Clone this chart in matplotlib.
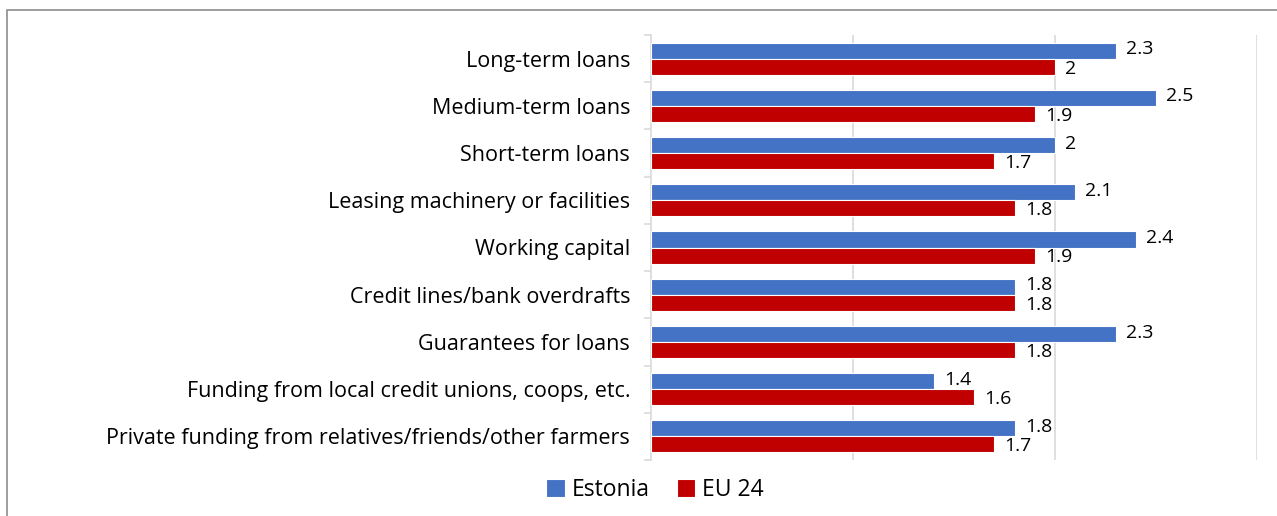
import matplotlib.pyplot as plt
from matplotlib.patches import Rectangle
import numpy as np

plt.rcParams["font.family"] = ["Open Sans", "DejaVu Sans"]

categories = [
    "Long-term loans",
    "Medium-term loans",
    "Short-term loans",
    "Leasing machinery or facilities",
    "Working capital",
    "Credit lines/bank overdrafts",
    "Guarantees for loans",
    "Funding from local credit unions, coops, etc.",
    "Private funding from relatives/friends/other farmers",
]
estonia = [2.3, 2.5, 2.0, 2.1, 2.4, 1.8, 2.3, 1.4, 1.8]
eu24 = [2.0, 1.9, 1.7, 1.8, 1.9, 1.8, 1.8, 1.6, 1.7]
series_names = ["Estonia", "EU 24"]
colors = ["#4472C4", "#C00000"]

fig = plt.figure(figsize=(12.77, 5.16), dpi=100)
ax = fig.add_axes([651 / 1277, 1 - 460 / 516, (1257 - 651) / 1277, 425 / 516])

# figure border
fig.patches.append(Rectangle((7 / 1277, -0.1), 1.2, 1 - 10 / 516 + 0.1,
                             transform=fig.transFigure, fill=False,
                             edgecolor="#8c8c8c", linewidth=1.2, zorder=0))

y = np.arange(len(categories))
h = 0.34
# label nudge keeps the two value labels of a pair apart
for vals, name, c, off, nudge in zip([estonia, eu24], series_names, colors,
                                     [-h / 2, h / 2], [-0.03, 0.04]):
    bars = ax.barh(y + off, vals, height=h, color=c, edgecolor="white",
                   linewidth=0.8, label=name, zorder=3)
    for b, v in zip(bars, vals):
        ax.text(v + 0.05, b.get_y() + h / 2 + nudge, f"{v:g}", va="center",
                ha="left", fontsize=14, color="black", zorder=4)

ax.set_xlim(0, 3)
ax.set_ylim(len(categories) - 0.5, -0.5)
ax.set_xticks([1, 2, 3])
ax.set_xticklabels([])
ax.tick_params(axis="x", length=0)
ax.grid(axis="x", color="#d9d9d9", linewidth=1.2, zorder=0)

ax.set_yticks(y)
ax.set_yticklabels(categories, fontsize=15.5)
ax.tick_params(axis="y", length=0, pad=15)
ax.set_yticks(np.arange(len(categories) + 1) - 0.5, minor=True)
ax.tick_params(axis="y", which="minor", length=5, color="#d9d9d9", width=1.2)

for s in ["top", "right", "bottom"]:
    ax.spines[s].set_visible(False)
ax.spines["left"].set_color("#d9d9d9")
ax.spines["left"].set_linewidth(1.2)

fig.legend(loc="center", bbox_to_anchor=(655 / 1277, 1 - 490 / 516), ncol=2,
           frameon=False, fontsize=16.5, handlelength=0.8, handleheight=0.8,
           handletextpad=0.3, columnspacing=1.2)

fig.savefig("out.png", dpi=100)
